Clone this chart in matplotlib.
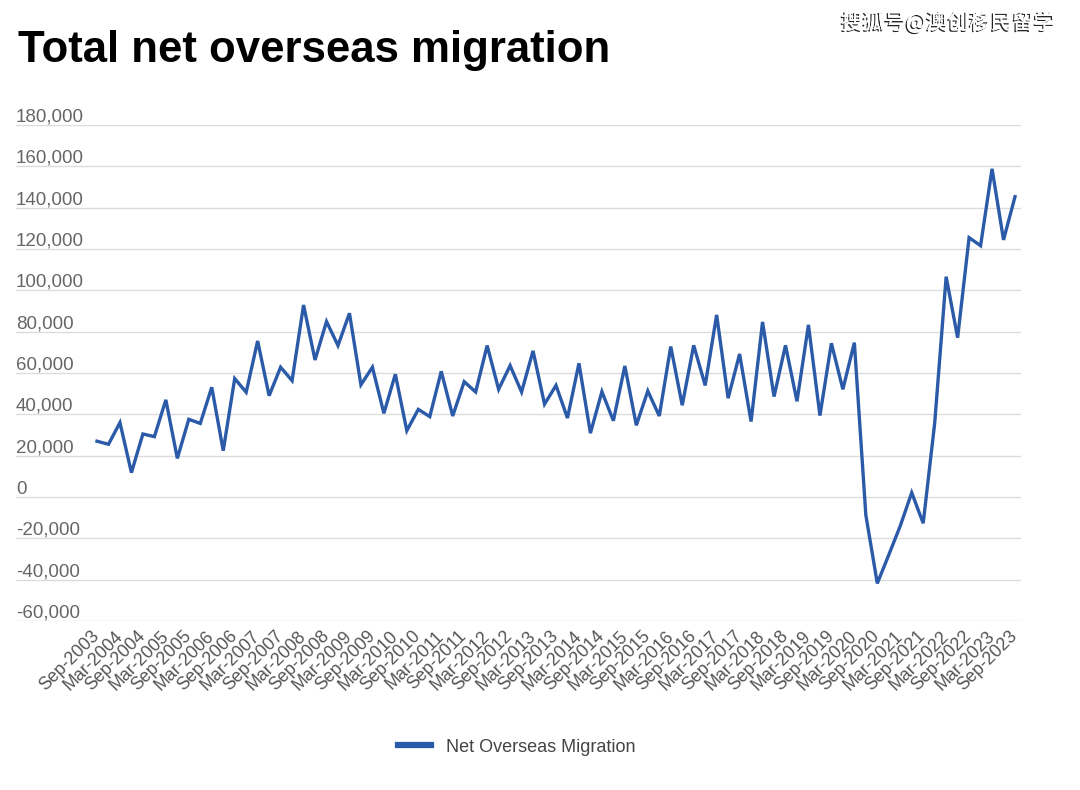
import matplotlib
matplotlib.use("Agg")
import matplotlib.pyplot as plt
import matplotlib.patheffects as pe
from matplotlib.transforms import blended_transform_factory, offset_copy

plt.rcParams['font.family'] = ['Liberation Sans', 'DejaVu Sans']

# ---- data ----
years = list(range(2003, 2024))
quarters = []
for y in years:
    for m in ["Mar", "Jun", "Sep", "Dec"]:
        quarters.append(f"{m}-{y}")
quarters = quarters[quarters.index("Sep-2003"):quarters.index("Sep-2023") + 1]

net_migration = [
    27000, 25500, 36000, 11800, 30500, 29200, 47000, 18700, 37600, 35600,
    53100, 22400, 57300, 50700, 75500, 49000, 62800, 56300, 92900, 66300,
    84900, 73300, 88900, 54300, 62800, 40500, 59400, 32100, 42400, 38900,
    60800, 39200, 55800, 50800, 73300, 52100, 63600, 50800, 70700, 44900,
    54000, 38200, 64700, 30900, 51000, 36900, 63400, 34700, 51300, 39200,
    72800, 44400, 73400, 54000, 88100, 47800, 69200, 36500, 84700, 48600,
    73400, 46300, 83300, 39400, 74400, 52100, 74700, -8700, -41800, -28000,
    -14000, 2100, -12700, 35700, 106600, 77100, 125500, 121600, 158800, 124400,
    145300,
]
y_ticks = [-60000, -40000, -20000, 0, 20000, 40000, 60000, 80000,
           100000, 120000, 140000, 160000, 180000]
y_tick_labels = [f"{v:,}" for v in y_ticks]
series_name = "Net Overseas Migration"
title = "Total net overseas migration"
watermark = "搜狐号@澳创移民留学"

# ---- figure ----
W, H = 1080, 790
fig = plt.figure(figsize=(W / 100, H / 100), dpi=100)
left_px, right_px, top_px, bot_px = 16, 1021, 125, 621
ax = fig.add_axes([left_px / W, 1 - bot_px / H,
                   (right_px - left_px) / W, (bot_px - top_px) / H])

x = list(range(len(net_migration)))
line_color = "#2b5aa8"
ln, = ax.plot(x, net_migration, color=line_color, lw=2.4,
              solid_joinstyle="miter", label=series_name, zorder=3)

step = 918 / 80
ax.set_xlim(0 - (97 - left_px) / step, 80 + (right_px - 1015) / step)
ax.set_ylim(-60000, 180000)

for s in ax.spines.values():
    s.set_visible(False)

ax.set_yticks(y_ticks)
ax.yaxis.grid(True, color="#dcdcdc", lw=1.0)
ax.set_axisbelow(True)
ax.tick_params(axis="y", length=0, labelleft=False)

trans = blended_transform_factory(ax.transAxes, ax.transData)
trans = offset_copy(trans, fig=fig, x=0, y=3.5, units="dots")
for v, lab in zip(y_ticks, y_tick_labels):
    ax.text(0, v, lab, transform=trans, ha="left", va="baseline",
            fontsize=13.5, color="#666666")

xt = x[::2]
ax.set_xticks(xt)
ax.set_xticklabels([quarters[i] for i in xt], rotation=45, ha="right",
                   va="center", rotation_mode="anchor",
                   fontsize=12.8, color="#555555")
ax.tick_params(axis="x", length=0, pad=9)

fig.text(18 / W, 1 - 62 / H, title, fontsize=31.5, fontweight="bold",
         color="black", ha="left", va="baseline")

fig.text(1055 / W, 1 - 23 / H, watermark, fontsize=15.5,
         family=["Noto Sans CJK SC", "DejaVu Sans"], fontweight="medium",
         color="white", ha="right", va="center",
         path_effects=[pe.withSimplePatchShadow(offset=(-1.0, -1.0),
                                                shadow_rgbFace="black",
                                                alpha=0.85),
                       pe.Normal()])

leg = fig.legend(handles=[ln], loc="center",
                 bbox_to_anchor=(517 / W, 1 - 747 / H), frameon=False,
                 fontsize=13, handlelength=1.8, handletextpad=0.85,
                 labelcolor="#444444")
leg.legend_handles[0].set_linewidth(4.5)

fig.savefig("out.png", dpi=100, facecolor="white")
